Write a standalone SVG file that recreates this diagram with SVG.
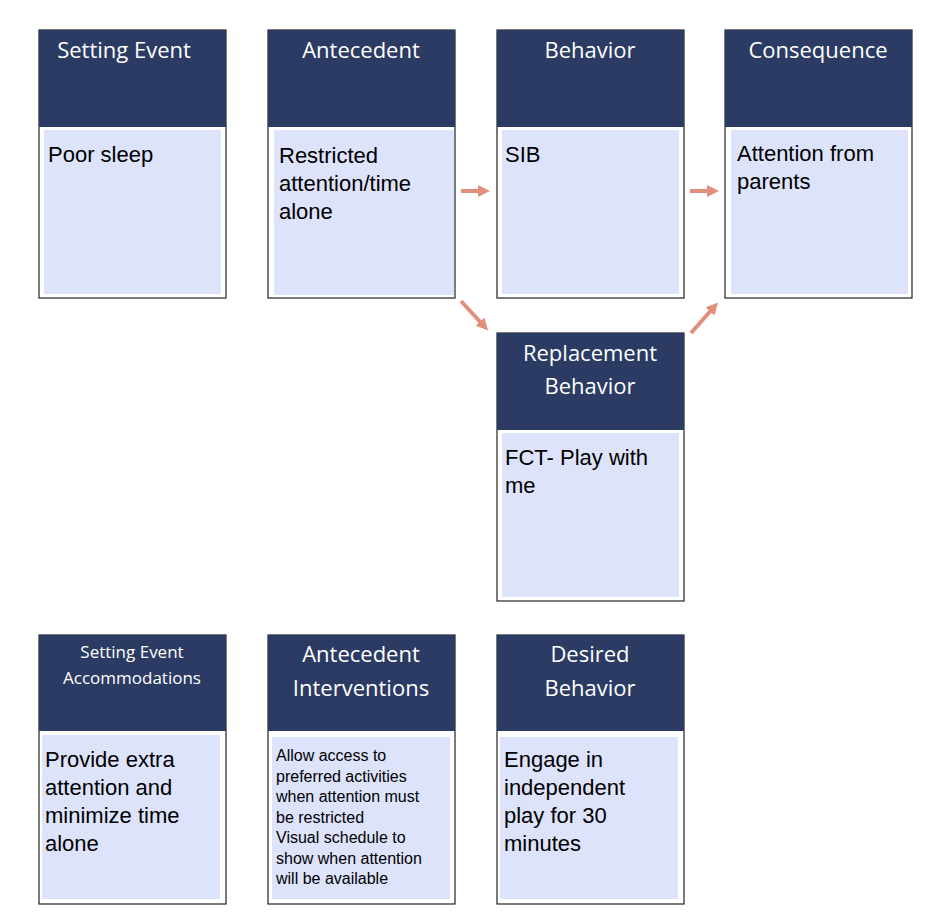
<svg xmlns="http://www.w3.org/2000/svg" width="944" height="918" viewBox="0 0 944 918">
<style>
.o{fill:#fff;stroke:#222;stroke-width:1.2}
.h{fill:#2B3B63}
.b{fill:#DDE3FB}
.ht{font-family:"Open Sans",sans-serif;font-size:22px;fill:#fff;text-anchor:middle}
.bt{font-family:"Liberation Sans",Arial,sans-serif;font-size:22px;fill:#000}
.st{font-family:"Liberation Sans",Arial,sans-serif;font-size:16px;fill:#000}
.a{stroke:#E0907A;stroke-width:4;fill:none;marker-end:url(#m)}
</style>
<defs><marker id="m" viewBox="0 0 10 10" refX="5" refY="5" markerWidth="3" markerHeight="3" orient="auto"><path d="M0,0L10,5L0,10z" fill="#E0907A"/></marker></defs>
<rect width="944" height="918" fill="#fff"/>
<g id="setting"><rect class="o" x="39" y="30" width="187" height="268"/><rect class="h" x="39" y="30" width="187" height="97"/><rect class="b" x="44" y="130" width="177" height="164"/><text class="ht" x="124" y="58">Setting Event</text><text class="bt" x="48" y="162">Poor sleep</text></g>
<g id="antecedent"><rect class="o" x="268" y="30" width="187" height="268"/><rect class="h" x="268" y="30" width="187" height="97"/><rect class="b" x="274" y="130" width="180" height="165"/><text class="ht" x="361" y="58">Antecedent</text><text class="bt" x="279" y="163">Restricted<tspan x="279" dy="28">attention/time</tspan><tspan x="279" dy="28">alone</tspan></text></g>
<g id="behavior"><rect class="o" x="497" y="30" width="187" height="268"/><rect class="h" x="497" y="30" width="187" height="97"/><rect class="b" x="502" y="130" width="177" height="164"/><text class="ht" x="590" y="58">Behavior</text><text class="bt" x="505" y="162">SIB</text></g>
<g id="consequence"><rect class="o" x="725" y="30" width="187" height="268"/><rect class="h" x="725" y="30" width="187" height="97"/><rect class="b" x="731" y="130" width="177" height="164"/><text class="ht" x="818" y="58">Consequence</text><text class="bt" x="737" y="161">Attention from<tspan x="737" dy="28">parents</tspan></text></g>
<g id="replacement"><rect class="o" x="497" y="333" width="187" height="268"/><rect class="h" x="497" y="333" width="187" height="97"/><rect class="b" x="502" y="433" width="177" height="164"/><text class="ht" x="590" y="361">Replacement<tspan x="590" dy="33">Behavior</tspan></text><text class="bt" x="505" y="465">FCT- Play with<tspan x="505" dy="28">me</tspan></text></g>
<g id="accommodations"><rect class="o" x="39" y="635" width="187" height="269"/><rect class="h" x="39" y="635" width="187" height="96"/><rect class="b" x="42" y="735" width="178" height="164"/><text class="ht" x="132" y="658" style="font-size:17px">Setting Event<tspan x="132" dy="26">Accommodations</tspan></text><text class="bt" x="45" y="767">Provide extra<tspan x="45" dy="28">attention and</tspan><tspan x="45" dy="28">minimize time</tspan><tspan x="45" dy="28">alone</tspan></text></g>
<g id="interventions"><rect class="o" x="268" y="635" width="187" height="269"/><rect class="h" x="268" y="635" width="187" height="96"/><rect class="b" x="272" y="737" width="178" height="162"/><text class="ht" x="361" y="662">Antecedent<tspan x="361" dy="34">Interventions</tspan></text><text class="st" x="276" y="761">Allow access to<tspan x="276" dy="20.5">preferred activities</tspan><tspan x="276" dy="20.5">when attention must</tspan><tspan x="276" dy="20.5">be restricted</tspan><tspan x="276" dy="20.5">Visual schedule to</tspan><tspan x="276" dy="20.5">show when attention</tspan><tspan x="276" dy="20.5">will be available</tspan></text></g>
<g id="desired"><rect class="o" x="497" y="635" width="187" height="269"/><rect class="h" x="497" y="635" width="187" height="96"/><rect class="b" x="500" y="737" width="178" height="162"/><text class="ht" x="590" y="662">Desired<tspan x="590" dy="34">Behavior</tspan></text><text class="bt" x="504" y="767">Engage in<tspan x="504" dy="28">independent</tspan><tspan x="504" dy="28">play for 30</tspan><tspan x="504" dy="28">minutes</tspan></text></g>
<g id="connectors">
<line class="a" x1="461" y1="191" x2="484" y2="191"/>
<line class="a" x1="690" y1="191" x2="713" y2="191"/>
<line class="a" x1="461" y1="301" x2="484" y2="326"/>
<line class="a" x1="691" y1="333" x2="714" y2="307"/>
</g>
</svg>
